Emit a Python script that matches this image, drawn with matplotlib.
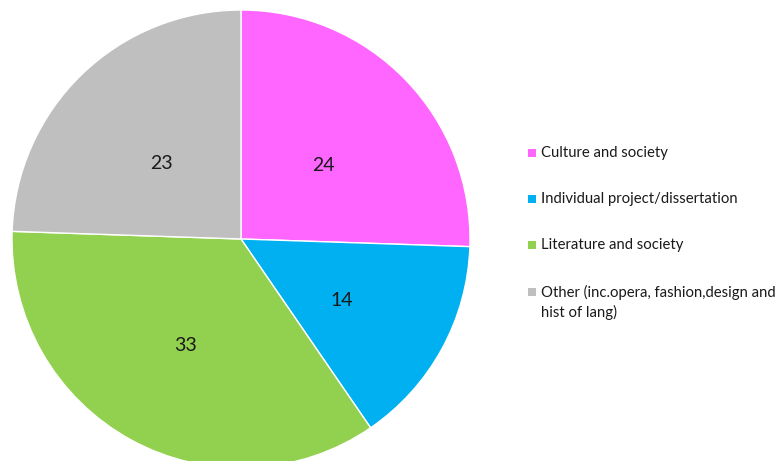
import matplotlib.pyplot as plt
from matplotlib.patches import Rectangle

categories = ["Culture and society", "Individual project/dissertation",
              "Literature and society",
              "Other (inc.opera, fashion,design and\nhist of lang)"]
values = [24, 14, 33, 23]
colors = ["#FF66FF", "#00B0F0", "#92D050", "#BFBFBF"]

plt.rcParams['font.family'] = ['Lato', 'DejaVu Sans']

W, H = 782, 461
fig = plt.figure(figsize=(W / 100, H / 100), dpi=100)

# pie centre (241, 239) px from top-left, radius 229 px
cx, cy, r = 241, 239, 229
ax = fig.add_axes([(cx - r) / W, (H - cy - r) / H, 2 * r / W, 2 * r / H])
wedges, texts = ax.pie(values, colors=colors, startangle=90, counterclock=False,
                       labels=[str(v) for v in values], labeldistance=0.5,
                       textprops={'fontsize': 14, 'color': '#1a1a1a',
                                  'ha': 'center', 'va': 'center'},
                       wedgeprops={'edgecolor': 'white', 'linewidth': 1})
# old-style figures in the original sit a bit lower
for t in texts:
    x, y = t.get_position()
    t.set_position((x, y - 0.028))
ax.set_xlim(-1, 1)
ax.set_ylim(-1, 1)
ax.set_aspect('auto')

# legend
rows = [153, 199, 245, 292]
for lab, col, y in zip(categories, colors, rows):
    fig.patches.append(Rectangle((528 / W, (H - y - 4) / H), 8 / W, 8 / H,
                                 transform=fig.transFigure, facecolor=col,
                                 edgecolor='none'))
    for i, line in enumerate(lab.split('\n')):
        fig.text(541 / W, (H - y - 20 * i) / H, line, fontsize=10.75,
                 color='#1a1a1a', va='center', ha='left')

fig.savefig("out.png", dpi=100)
